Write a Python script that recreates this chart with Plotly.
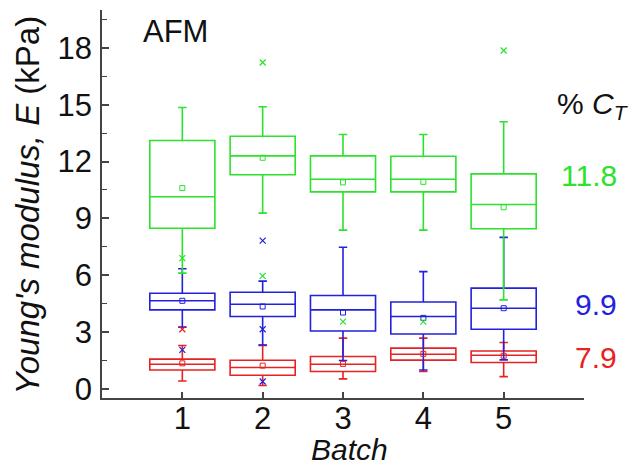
import plotly.graph_objects as go

batches = [1, 2, 3, 4, 5]

green_q1 = [8.48, 11.30, 10.40, 10.40, 8.45]
green_med = [10.14, 12.30, 11.07, 11.07, 9.73]
green_q3 = [13.11, 13.34, 12.30, 12.28, 11.35]
green_lo = [6.11, 9.28, 8.38, 8.38, 4.70]
green_hi = [14.85, 14.89, 13.43, 13.43, 14.10]
green_mean = [10.60, 12.20, 10.90, 10.93, 9.59]
green_out_x = [1, 2, 2, 3, 4, 5]
green_out_y = [6.90, 17.23, 5.97, 3.55, 3.55, 17.86]

blue_q1 = [4.17, 3.82, 3.06, 2.90, 3.15]
blue_med = [4.65, 4.47, 4.17, 3.82, 4.26]
blue_q3 = [5.05, 5.10, 4.93, 4.59, 5.32]
blue_lo = [3.26, 2.32, 1.50, 1.00, 1.53]
blue_hi = [6.34, 5.69, 7.48, 6.19, 8.00]
blue_mean = [4.65, 4.35, 4.03, 3.75, 4.26]
blue_out_x = [1, 2, 2, 2]
blue_out_y = [2.06, 7.83, 3.15, 0.39]

red_q1 = [1.00, 0.72, 0.92, 1.52, 1.39]
red_med = [1.30, 1.13, 1.30, 1.83, 1.78]
red_q3 = [1.57, 1.51, 1.71, 2.15, 2.00]
red_lo = [0.42, 0.18, 0.53, 0.92, 0.65]
red_hi = [2.29, 2.30, 2.68, 2.68, 2.45]
red_mean = [1.35, 1.23, 1.32, 1.85, 1.75]
red_out_x = [1]
red_out_y = [3.15]

ct_labels = ["11.8", "9.9", "7.9"]
ct_label_y = [11.25, 4.43, 1.64]

GREEN = "#2de22d"
BLUE = "#2222dd"
RED = "#e62222"
FONT = "Liberation Sans, Arial, sans-serif"

series = [
    (RED, red_q1, red_med, red_q3, red_lo, red_hi, red_mean, red_out_x, red_out_y),
    (BLUE, blue_q1, blue_med, blue_q3, blue_lo, blue_hi, blue_mean, blue_out_x, blue_out_y),
    (GREEN, green_q1, green_med, green_q3, green_lo, green_hi, green_mean, green_out_x, green_out_y),
]

fig = go.Figure()
for color, q1, med, q3, lo, hi, mean, ox, oy in series:
    fig.add_trace(go.Box(
        x=batches, q1=q1, median=med, q3=q3, lowerfence=lo, upperfence=hi,
        boxpoints=False, width=0.81, whiskerwidth=0.13,
        line=dict(color=color, width=1.6), fillcolor="rgba(0,0,0,0)",
        showlegend=False, hoverinfo="skip",
    ))
    fig.add_trace(go.Scatter(
        x=batches, y=mean, mode="markers", showlegend=False,
        marker=dict(symbol="square-open", size=5, color=color, line=dict(width=1, color=color)),
    ))
    fig.add_trace(go.Scatter(
        x=ox, y=oy, mode="markers", showlegend=False,
        marker=dict(symbol="x-thin-open", size=6, color=color, line=dict(width=1.2, color=color)),
    ))

annotations = [
    dict(text="AFM", x=0.48, y=18.85, xref="x", yref="y", xanchor="left", yanchor="middle",
         showarrow=False, font=dict(family=FONT, size=31, color="#111111")),
    dict(text="% <i>C</i><sub><i>T</i></sub>", x=1.097, y=14.95, xref="paper", yref="y",
         xanchor="right", yanchor="middle", showarrow=False,
         font=dict(family=FONT, size=30, color="#111111")),
    dict(text="<i>Young's modulus, E</i> (kPa)", x=-0.155, y=0.497, xref="paper", yref="paper",
         xanchor="center", yanchor="middle", textangle=-90, showarrow=False,
         font=dict(family=FONT, size=33, color="#111111")),
    dict(text="<i>Batch</i>", x=0.513, y=-0.134, xref="paper", yref="paper",
         xanchor="center", yanchor="middle", showarrow=False,
         font=dict(family=FONT, size=30, color="#111111")),
]
for txt, yy, col in zip(ct_labels, ct_label_y, [GREEN, BLUE, RED]):
    annotations.append(dict(text=txt, x=1.0726, y=yy, xref="paper", yref="y",
                            xanchor="right", yanchor="middle", showarrow=False,
                            font=dict(family=FONT, size=30, color=col)))

fig.update_layout(
    width=637, height=470,
    margin=dict(l=102, r=53, t=10, b=72),
    paper_bgcolor="white", plot_bgcolor="white",
    boxmode="overlay",
    annotations=annotations,
    font=dict(family=FONT, size=30, color="#111111"),
)
fig.update_xaxes(
    range=[0, 6], tickvals=batches, ticktext=[str(b) for b in batches],
    ticks="inside", ticklen=6, tickwidth=1.5, tickcolor="#444444",
    minor=dict(ticks="inside", ticklen=6, tickwidth=1.5, tickcolor="#444444", tick0=0, dtick=1),
    showline=True, linecolor="#444444", linewidth=1.6, showgrid=False, zeroline=False,
    tickfont=dict(family=FONT, size=31, color="#111111"), ticklabelstandoff=-8,
)
fig.update_yaxes(
    range=[-0.48, 20], tickvals=[0, 3, 6, 9, 12, 15, 18],
    ticks="inside", ticklen=7, tickwidth=1.5, tickcolor="#444444",
    minor=dict(ticks="inside", ticklen=5, tickwidth=1.2, tickcolor="#444444", tick0=0, dtick=1.5),
    showline=True, linecolor="#444444", linewidth=1.6, showgrid=False, zeroline=False,
    tickfont=dict(family=FONT, size=31, color="#111111"), ticklabelstandoff=2,
)

fig.write_html("out.html", config={"displayModeBar": False},
               post_script="document.body.style.margin='0';")
